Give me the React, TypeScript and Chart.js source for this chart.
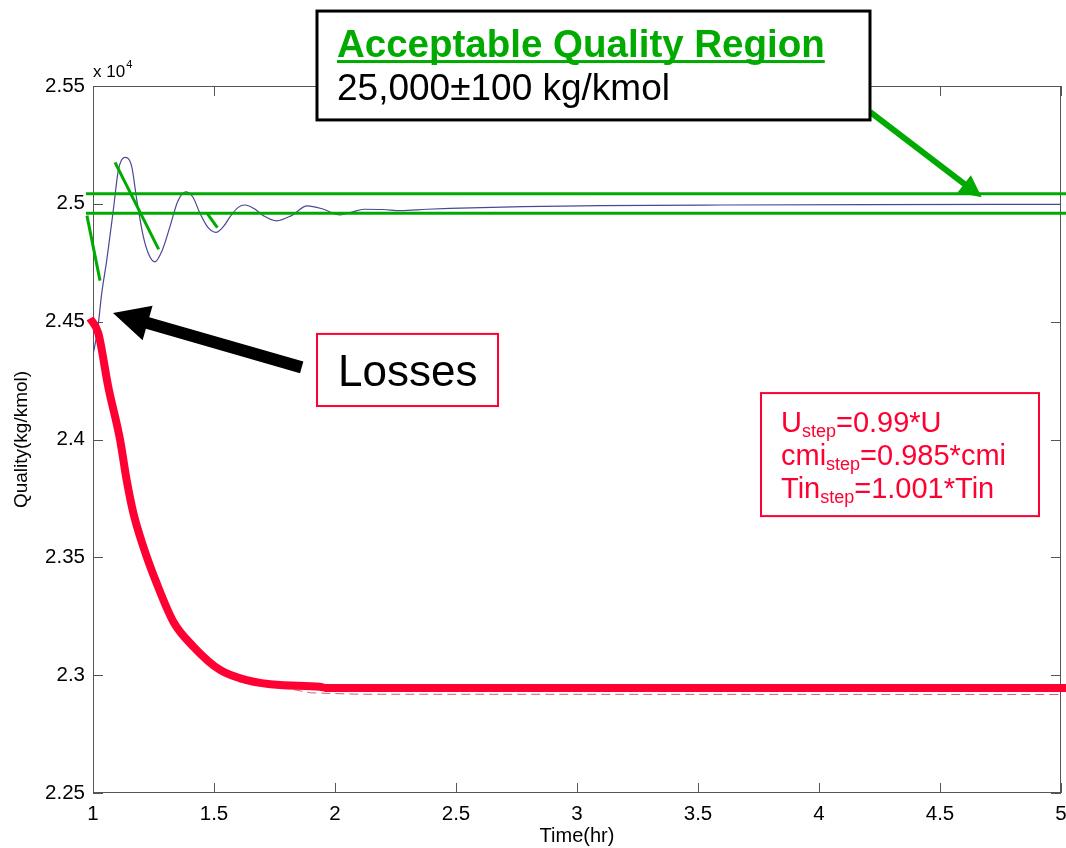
import React, { useEffect, useRef } from 'react';
import { Chart, registerables } from 'chart.js';

Chart.register(...registerables);

const FONT = '"Liberation Sans", Arial, Helvetica, sans-serif';

// ---- tick values ----
const xTickValues = [1, 1.5, 2, 2.5, 3, 3.5, 4, 4.5, 5];
const yTickValues = [2.25, 2.3, 2.35, 2.4, 2.45, 2.5, 2.55];

// ---- simulated quality response (thin blue) ----
const blueX = [1.0, 1.019, 1.036, 1.057, 1.084, 1.105, 1.132, 1.16, 1.181, 1.208, 1.232, 1.256, 1.285, 1.318, 1.35, 1.383, 1.412, 1.442, 1.475, 1.508, 1.54, 1.566, 1.6, 1.628, 1.665, 1.704, 1.759, 1.82, 1.885, 1.95, 2.02, 2.07, 2.12, 2.2, 2.27, 2.38, 2.475, 2.778, 3.095, 3.6, 4.2, 5.0];
const blueY = [2.436, 2.4465, 2.462, 2.4762, 2.4974, 2.5144, 2.5197, 2.5158, 2.5016, 2.4861, 2.4782, 2.4754, 2.48, 2.4903, 2.501, 2.5051, 2.503, 2.496, 2.49, 2.4879, 2.4905, 2.4945, 2.4985, 2.4995, 2.498, 2.495, 2.4928, 2.495, 2.4991, 2.4978, 2.4953, 2.4965, 2.4977, 2.4976, 2.4971, 2.4977, 2.4981, 2.4988, 2.4992, 2.4995, 2.4997, 2.4998];

// ---- losses curve (thick red) ----
const lossX = [0.988, 1.022, 1.063, 1.112, 1.139, 1.167, 1.208, 1.263, 1.332, 1.415, 1.525, 1.635, 1.773, 1.938, 1.96, 5.025];
const lossY = [2.4514, 2.4451, 2.4224, 2.3998, 2.3828, 2.3687, 2.3545, 2.339, 2.3227, 2.3121, 2.3022, 2.2979, 2.2958, 2.2951, 2.2946, 2.2946];

// ---- underlying dashed red response ----
const dashX = [1.6, 1.77, 1.9, 2.1, 5.0];
const dashY = [2.2972, 2.295, 2.2925, 2.2919, 2.2918];

// ---- acceptable quality band ----
const bandX = [0.971, 5.025];
const bandUpper = [2.5043, 2.5043];
const bandLower = [2.496, 2.496];

// ---- green slope marks ----
const slope1X = [0.975, 1.029];
const slope1Y = [2.495, 2.4674];
const slope2X = [1.091, 1.2715];
const slope2Y = [2.5176, 2.4807];
const slope3X = [1.47, 1.514];
const slope3Y = [2.4962, 2.4899];

const zip = (xs: number[], ys: number[]) => xs.map((x, i) => ({ x, y: ys[i] }));

const GREEN = '#00aa00';
const RED = '#ff0033';
const BLUE = 'rgb(72,72,150)';
const AXIS = '#555555';

function drawArrow(ctx: CanvasRenderingContext2D, x0: number, y0: number, x1: number, y1: number, shaft: number, headLen: number, headW: number, color: string) {
  const ang = Math.atan2(y1 - y0, x1 - x0);
  const len = Math.hypot(x1 - x0, y1 - y0);
  ctx.save();
  ctx.translate(x0, y0);
  ctx.rotate(ang);
  ctx.fillStyle = color;
  ctx.beginPath();
  ctx.moveTo(0, -shaft / 2);
  ctx.lineTo(len - headLen, -shaft / 2);
  ctx.lineTo(len - headLen, -headW / 2);
  ctx.lineTo(len, 0);
  ctx.lineTo(len - headLen, headW / 2);
  ctx.lineTo(len - headLen, shaft / 2);
  ctx.lineTo(0, shaft / 2);
  ctx.closePath();
  ctx.fill();
  ctx.restore();
}

function drawRich(ctx: CanvasRenderingContext2D, x: number, y: number, parts: [string, boolean][], size: number, subSize: number, color: string) {
  let cx = x;
  ctx.fillStyle = color;
  ctx.textBaseline = 'alphabetic';
  ctx.textAlign = 'left';
  for (const [t, sub] of parts) {
    ctx.font = `${sub ? subSize : size}px ${FONT}`;
    ctx.fillText(t, cx, sub ? y + 5 : y);
    cx += ctx.measureText(t).width;
  }
}

const framePlugin = {
  id: 'frame',
  beforeDatasetsDraw(chart: any) {
    const { ctx, chartArea } = chart;
    const { left, right, top, bottom } = chartArea;
    const xs = chart.scales.x;
    const ys = chart.scales.y;
    ctx.save();
    ctx.strokeStyle = AXIS;
    ctx.lineWidth = 1;
    ctx.strokeRect(left + 0.5, top + 0.5, right - left - 1, bottom - top - 1);
    ctx.beginPath();
    for (const v of xTickValues) {
      const p = Math.round(xs.getPixelForValue(v)) + 0.5;
      ctx.moveTo(p, bottom);
      ctx.lineTo(p, bottom - 10);
      ctx.moveTo(p, top);
      ctx.lineTo(p, top + 10);
    }
    for (const v of yTickValues) {
      const p = Math.round(ys.getPixelForValue(v)) + 0.5;
      ctx.moveTo(left, p);
      ctx.lineTo(left + 10, p);
      ctx.moveTo(right, p);
      ctx.lineTo(right - 10, p);
    }
    ctx.stroke();
    ctx.restore();
  },
};

// annotation anchors in data units
const boxQuality = { x0: 1.9256, y0: 2.5818, x1: 4.2107, y1: 2.5356 };
const boxLosses = { x0: 1.9256, y0: 2.4448, x1: 2.6736, y1: 2.4142 };
const boxParams = { x0: 3.7603, y0: 2.4197, x1: 4.9091, y1: 2.3675 };
const arrowLosses = { x0: 1.8624, y0: 2.4306, x1: 1.0826, y1: 2.4537 };
const arrowBand = { x0: 4.2107, y0: 2.539, x1: 4.6723, y1: 2.5028 };

const annotationPlugin = {
  id: 'annotations',
  afterDraw(chart: any) {
    const { ctx } = chart;
    const xs = chart.scales.x;
    const ys = chart.scales.y;
    const X = (v: number) => xs.getPixelForValue(v);
    const Y = (v: number) => ys.getPixelForValue(v);
    ctx.save();

    // x 10^4 exponent label
    const left = chart.chartArea.left;
    const top = chart.chartArea.top;
    ctx.fillStyle = '#000';
    ctx.textAlign = 'left';
    ctx.textBaseline = 'alphabetic';
    ctx.font = `17px ${FONT}`;
    ctx.fillText('x 10', left, top - 9);
    const w = ctx.measureText('x 10').width;
    ctx.font = `11px ${FONT}`;
    ctx.fillText('4', left + w + 1, top - 18);

    // Arrows
    drawArrow(ctx, X(arrowLosses.x0), Y(arrowLosses.y0), X(arrowLosses.x1), Y(arrowLosses.y1), 12, 36, 36, '#000');
    drawArrow(ctx, X(arrowBand.x0), Y(arrowBand.y0), X(arrowBand.x1), Y(arrowBand.y1), 6, 22, 22, GREEN);

    // Acceptable Quality box
    {
      const bx = X(boxQuality.x0), by = Y(boxQuality.y0);
      const bw = X(boxQuality.x1) - bx, bh = Y(boxQuality.y1) - by;
      ctx.fillStyle = '#fff';
      ctx.fillRect(bx, by, bw, bh);
      ctx.strokeStyle = '#000';
      ctx.lineWidth = 3;
      ctx.strokeRect(bx, by, bw, bh);
      ctx.fillStyle = GREEN;
      ctx.font = `bold 38.5px ${FONT}`;
      const t = 'Acceptable Quality Region';
      ctx.fillText(t, bx + 20, by + 46);
      const tw = ctx.measureText(t).width;
      ctx.fillRect(bx + 20, by + 49, tw, 3);
      ctx.fillStyle = '#000';
      ctx.font = `37px ${FONT}`;
      ctx.fillText('25,000±100 kg/kmol', bx + 20, by + 89);
    }

    // Losses box
    {
      const bx = X(boxLosses.x0), by = Y(boxLosses.y0);
      const bw = X(boxLosses.x1) - bx, bh = Y(boxLosses.y1) - by;
      ctx.fillStyle = '#fff';
      ctx.fillRect(bx, by, bw, bh);
      ctx.strokeStyle = RED;
      ctx.lineWidth = 2;
      ctx.strokeRect(bx, by, bw, bh);
      ctx.fillStyle = '#000';
      ctx.font = `44px ${FONT}`;
      ctx.fillText('Losses', bx + 21, by + 52);
    }

    // Parameter box
    {
      const bx = X(boxParams.x0), by = Y(boxParams.y0);
      const bw = X(boxParams.x1) - bx, bh = Y(boxParams.y1) - by;
      ctx.fillStyle = '#fff';
      ctx.fillRect(bx, by, bw, bh);
      ctx.strokeStyle = RED;
      ctx.lineWidth = 2;
      ctx.strokeRect(bx, by, bw, bh);
      drawRich(ctx, bx + 20, by + 39, [['U', false], ['step', true], ['=0.99*U', false]], 29, 18, RED);
      drawRich(ctx, bx + 20, by + 72, [['cmi', false], ['step', true], ['=0.985*cmi', false]], 29, 18, RED);
      drawRich(ctx, bx + 20, by + 105, [['Tin', false], ['step', true], ['=1.001*Tin', false]], 29, 18, RED);
    }
    ctx.restore();
  },
};

export default function App() {
  const ref = useRef<HTMLCanvasElement | null>(null);

  useEffect(() => {
    if (!ref.current) return;
    const lineBase = { pointRadius: 0, fill: false, tension: 0 };
    const chart = new Chart(ref.current, {
      type: 'line',
      data: {
        datasets: [
          { ...lineBase, label: 'band upper', data: zip(bandX, bandUpper), borderColor: GREEN, borderWidth: 3, clip: false, order: 1 },
          { ...lineBase, label: 'band lower', data: zip(bandX, bandLower), borderColor: GREEN, borderWidth: 3, clip: false, order: 1 },
          { ...lineBase, label: 'slope 1', data: zip(slope1X, slope1Y), borderColor: GREEN, borderWidth: 3, clip: false, order: 1 },
          { ...lineBase, label: 'slope 2', data: zip(slope2X, slope2Y), borderColor: GREEN, borderWidth: 3, clip: false, order: 1 },
          { ...lineBase, label: 'slope 3', data: zip(slope3X, slope3Y), borderColor: GREEN, borderWidth: 3, clip: false, order: 1 },
          { ...lineBase, label: 'Losses', data: zip(lossX, lossY), borderColor: RED, borderWidth: 8, cubicInterpolationMode: 'monotone', borderCapStyle: 'butt', borderJoinStyle: 'round', clip: false, order: 2 },
          { ...lineBase, label: 'Response', data: zip(blueX, blueY), borderColor: BLUE, borderWidth: 1.2, cubicInterpolationMode: 'monotone', order: 3 },
          { ...lineBase, label: 'Dashed', data: zip(dashX, dashY), borderColor: 'rgb(225,90,110)', borderWidth: 1, borderDash: [9, 5], order: 4 },
        ],
      } as any,
      options: {
        animation: false,
        responsive: false,
        events: [],
        layout: { padding: { top: 86, right: 5, left: 0, bottom: 0 }, autoPadding: false },
        plugins: { legend: { display: false }, tooltip: { enabled: false }, title: { display: false } },
        scales: {
          x: {
            type: 'linear',
            min: 1,
            max: 5,
            afterBuildTicks: (s: any) => { s.ticks = xTickValues.map((v) => ({ value: v })); },
            afterFit: (s: any) => { s.height = 55; s.paddingLeft = 0; s.paddingRight = 0; },
            grid: { display: false, drawTicks: false },
            border: { display: false },
            ticks: { color: '#000', font: { family: FONT, size: 20.5 }, padding: 9, maxRotation: 0, autoSkip: false, callback: (v: any) => String(v) },
            title: { display: true, text: 'Time(hr)', color: '#000', font: { family: FONT, size: 20 }, padding: { top: 0, bottom: 0 } },
          },
          y: {
            type: 'linear',
            min: 2.25,
            max: 2.55,
            afterBuildTicks: (s: any) => { s.ticks = yTickValues.map((v) => ({ value: v })); },
            afterFit: (s: any) => { s.width = 93; s.paddingTop = 0; s.paddingBottom = 0; },
            grid: { display: false, drawTicks: false },
            border: { display: false },
            ticks: { color: '#000', font: { family: FONT, size: 20.5 }, padding: 8, autoSkip: false, callback: (v: any) => String(v) },
            title: { display: true, text: 'Quality(kg/kmol)', color: '#000', font: { family: FONT, size: 19 }, padding: { top: 10, bottom: 0 } },
          },
        },
      } as any,
      plugins: [framePlugin, annotationPlugin],
    });
    return () => chart.destroy();
  }, []);

  return (
    <div style={{ position: 'absolute', left: 0, top: 0, width: 1066, height: 848, background: '#fff' }}>
      <canvas ref={ref} width={1066} height={848} style={{ display: 'block' }} />
    </div>
  );
}
